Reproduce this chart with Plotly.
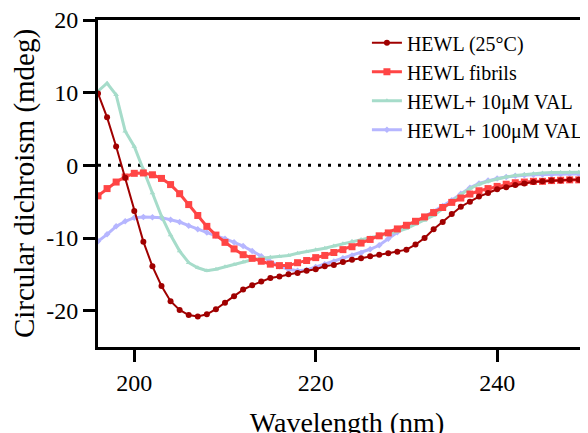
import plotly.graph_objects as go

# wavelength grid (nm)
wavelength = list(range(196, 251))

hewl_25 = [9.9, 6.6, 2.6, -1.7, -6.3, -10.5, -13.9, -16.6, -18.7, -19.9,
           -20.6, -20.8, -20.5, -19.8, -18.9, -18.0, -17.1, -16.5, -16.0, -15.5,
           -15.3, -15.0, -14.8, -14.5, -14.3, -13.9, -13.7, -13.3, -13.0, -12.8,
           -12.5, -12.3, -12.1, -11.9, -11.6, -10.9, -10.0, -8.8, -7.8, -6.7,
           -5.7, -5.0, -4.3, -3.8, -3.3, -3.0, -2.7, -2.5, -2.3, -2.2,
           -2.1, -2.1, -2.0, -2.0, -1.9]

hewl_fibrils = [-4.2, -3.2, -2.3, -1.6, -1.1, -1.05, -1.3, -1.8, -2.65, -3.9,
                -5.4, -6.9, -8.4, -9.6, -10.6, -11.5, -12.3, -12.8, -13.2, -13.6,
                -13.8, -13.8, -13.4, -13.1, -12.7, -12.4, -12.0, -11.6, -11.2, -10.7,
                -10.2, -9.7, -9.3, -8.75, -8.25, -7.7, -7.1, -6.5, -5.8, -5.1,
                -4.5, -3.95, -3.5, -3.2, -2.9, -2.6, -2.4, -2.3, -2.2, -2.2,
                -2.1, -2.05, -2.0, -2.0, -1.95]

hewl_val10 = [10.2, 11.3, 9.7, 4.7, 2.6, -0.5, -3.8, -7.0, -9.6, -11.8,
              -13.4, -14.1, -14.5, -14.3, -13.95, -13.65, -13.3, -13.0, -12.8, -12.65,
              -12.55, -12.4, -12.1, -11.9, -11.6, -11.4, -11.1, -10.8, -10.45, -10.2,
              -9.95, -9.7, -9.45, -9.1, -8.7, -8.1, -7.6, -6.9, -6.0, -5.0,
              -4.0, -3.2, -2.6, -2.2, -1.85, -1.6, -1.4, -1.25, -1.15, -1.05,
              -1.0, -1.0, -0.95, -0.95, -0.95]

hewl_val100 = [-10.45, -9.5, -8.4, -7.7, -7.2, -7.1, -7.15, -7.2, -7.5, -7.8,
               -8.3, -8.8, -9.25, -9.7, -10.1, -10.6, -11.1, -11.8, -12.5, -13.3,
               -13.9, -14.3, -14.5, -14.4, -14.0, -13.6, -13.25, -12.8, -12.4, -12.05,
               -11.55, -11.0, -10.1, -9.2, -8.5, -7.8, -7.1, -6.4, -5.6, -4.8,
               -3.9, -3.1, -2.5, -2.1, -1.8, -1.6, -1.45, -1.35, -1.3, -1.25,
               -1.25, -1.2, -1.2, -1.2, -1.2]

ytick_vals = [-20, -10, 0, 10, 20]
ytick_text = ["-20", "-10", "0", "10", "20"]
xtick_vals = [200, 220, 240]

FONT = "'Liberation Serif', 'Times New Roman', 'DejaVu Serif', serif"

fig = go.Figure()

# drawn back to front, legend order set with legendrank
fig.add_trace(go.Scatter(
    x=wavelength, y=hewl_val100, mode="lines+markers", name="HEWL+ 100\u03bcM VAL",
    line=dict(color="#b6b6ff", width=3),
    marker=dict(symbol="diamond", size=5, color="#b6b6ff"),
    legendrank=4,
))
fig.add_trace(go.Scatter(
    x=wavelength, y=hewl_val10, mode="lines+markers", name="HEWL+ 10\u03bcM VAL",
    line=dict(color="#a6dcca", width=3),
    marker=dict(symbol="triangle-up", size=5, color="#a6dcca"),
    legendrank=3,
))
fig.add_trace(go.Scatter(
    x=wavelength, y=hewl_fibrils, mode="lines+markers", name="HEWL fibrils",
    line=dict(color="#ff4545", width=3),
    marker=dict(symbol="square", size=7, color="#ff4545"),
    legendrank=2,
))
fig.add_trace(go.Scatter(
    x=wavelength, y=hewl_25, mode="lines+markers", name="HEWL (25\u00b0C)",
    line=dict(color="#a00000", width=2),
    marker=dict(symbol="circle", size=6, color="#a00000"),
    legendrank=1,
))

# dotted zero line
fig.add_hline(y=0, line=dict(color="black", width=3, dash="3px,7px"), layer="below")

# page body has an 8px margin, so the figure is laid out 8px up/left of the target
fig.update_layout(
    width=588, height=433,
    margin=dict(l=90, r=0, t=12, b=94, autoexpand=False),
    paper_bgcolor="white", plot_bgcolor="white",
    font=dict(family=FONT, color="black", size=24),
    showlegend=True,
    legend=dict(
        x=0.540, y=0.99, xanchor="left", yanchor="top",
        bgcolor="rgba(0,0,0,0)", font=dict(family=FONT, size=20, color="black"),
        tracegroupgap=0,
    ),
    xaxis=dict(
        range=[196, 250.9], tickvals=xtick_vals, automargin=False,
        showline=True, linecolor="black", linewidth=3, mirror=True,
        ticks="outside", ticklen=12, tickwidth=3, tickcolor="black",
        showgrid=False, zeroline=False,
        tickfont=dict(family=FONT, size=24, color="black"),
        title=dict(text="Wavelength (nm)", font=dict(family=FONT, size=28), standoff=18),
    ),
    yaxis=dict(
        range=[-25, 20], tickvals=ytick_vals, ticktext=ytick_text, automargin=False,
        ticklabeloverflow="allow",
        showline=True, linecolor="black", linewidth=3,
        ticks="outside", ticklen=12, tickwidth=3, tickcolor="black",
        showgrid=False, zeroline=False,
        tickfont=dict(family=FONT, size=24, color="black"),
        title=dict(text="Circular dichroism (mdeg)", font=dict(family=FONT, size=29), standoff=12),
    ),
)

fig.write_html("out.html")
